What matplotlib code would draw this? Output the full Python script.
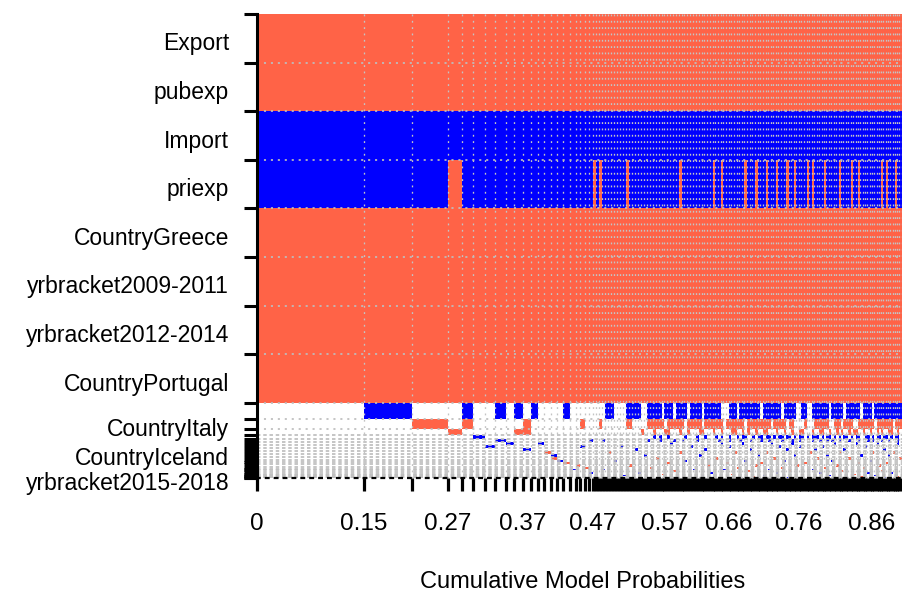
import matplotlib.pyplot as plt
import numpy as np
from matplotlib.colors import ListedColormap
from matplotlib.transforms import ScaledTranslation

plt.rcParams['font.family'] = ['Liberation Sans', 'DejaVu Sans']

# variables, top to bottom (blank = label hidden by overlap)
var_names = ["Export", "pubexp", "Import", "priexp", "CountryGreece",
             "yrbracket2009-2011", "yrbracket2012-2014", "CountryPortugal",
             "", "CountryItaly", "", "", "", "", "", "", "CountryIceland",
             "", "", "", "", "", "", "", "", "", "", "", "", "",
             "yrbracket2015-2018"]

# posterior inclusion probabilities (row heights)
pip = [1.0, 1.0, 1.0, 1.0, 1.0, 1.0, 1.0, 1.0,
       0.33, 0.205, 0.125, 0.072, 0.068,
       0.066, 0.064, 0.062, 0.06, 0.057, 0.054, 0.051, 0.048, 0.045,
       0.042, 0.039, 0.036, 0.032, 0.028, 0.024, 0.019, 0.013, 0.003]

# sign of each variable's coefficient when included
var_sign = [1, 1, -1, -1, 1, 1, 1, 1,
            -1, 1, 1, -1, -1,
            -1, -1, -1, 1, -1, 1, -1, 1, 1, 1, -1, 1, -1, 1, -1, 1, -1, -1]

# posterior model probabilities, best models first
head_probs = [0.150, 0.0665, 0.0504, 0.0196, 0.0161, 0.0168, 0.0140, 0.0154,
              0.0112, 0.0119, 0.0119, 0.0098, 0.0084, 0.0098, 0.0084, 0.0084,
              0.0098, 0.0084, 0.0056, 0.0070, 0.0056, 0.0056]
tail_probs = [0.0042] * 20 + [0.0040] * 20 + [0.0037] * 20 + \
             [0.0036] * 20 + [0.0034] * 20 + [0.0032] * 20

# rows 0-7 are in every model; priexp flips positive in a few
core_rows = [0, 1, 2, 3, 4, 5, 6, 7]
priexp_pos_head = [3]
priexp_pos_tail = [0, 2, 11, 29, 41, 44, 53, 57, 61, 65, 69, 72, 77, 79,
                   84, 90, 95, 98, 108, 110, 114]

# extra variables in the leading models: row -> model indices
head_incl = {8: [1, 4, 7, 9, 11, 16], 9: [2, 4, 10, 19], 10: [3, 9, 10],
             11: [5], 12: [7, 21], 13: [8, 12], 14: [6, 19], 15: [10],
             16: [13], 17: [14], 18: [14], 19: [15], 20: [16], 21: [18],
             22: [20], 23: [17], 25: [21]}

# dense rows in the tail models ('.' = excluded)
tail_rows = {
    8: ["....---...", ".-----..--", "---.---.--", "--.----.--",
        "----...---", ".--------.", "-------.--", "---..--..-",
        "------.---", "--.------.", "----.-----", "----------"],
    9: ["..+.......", ".++.....++", "++++.+++++", "+.+++++.++",
        "+++++.++++", "+++.++++++", "+++.+++++.", "++....+...",
        "++++++..++", "+.++++..++", "+++++.++++", "+++.++++++"],
    10: ["..........", "......+...", "+...++...+", "..+...++..",
         ".+..+...++", "..+.+..+..", "++...+..+.", ".+..++...+",
         "..++..+..+", ".+..+.++..", "+..+..+.+.", ".++..+..+."],
    11: ["..........", "..........", "-.-..-....", ".-...-..-.",
         "..-.-..-..", "-.--..-.--", ".--.-.--.-", "-.-.--.-.-",
         "--.-.--.-.", "-.--.-.--.", ".--.-.--.-", "-.-.--.-.-"],
    12: ["...-......", "........-.", "..-....-..", "-....-....",
         "...-...-..", ".-...-...-", "..-....-..", ".-..-....-",
         "..-..-.-..", "-...-...-.", "..-.-...-.", ".-...-.-.."],
}

# sparse rows in the tail models: row -> tail model indices
tail_incl = {13: [26, 44, 52, 63, 71, 88, 97, 106, 115],
             14: [9, 33, 47, 66, 74, 83, 101, 118],
             15: [14, 38, 55, 69, 80, 92, 109],
             16: [5, 29, 49, 61, 78, 90, 104, 113],
             17: [17, 36, 58, 72, 85, 99, 111],
             18: [21, 42, 64, 81, 94, 116],
             19: [7, 31, 53, 68, 87, 103, 119],
             20: [25, 46, 59, 76, 98, 110],
             21: [12, 39, 57, 73, 89, 107],
             22: [19, 50, 67, 84, 100, 117],
             23: [3, 34, 45, 62, 79, 93, 114],
             24: [27, 54, 70, 91, 108],
             25: [15, 40, 65, 82, 102, 112],
             26: [23, 48, 75, 96, 118],
             27: [10, 37, 60, 86, 105],
             28: [30, 56, 77, 99, 115],
             29: [43, 69, 92, 109],
             30: [51, 80, 104]}

xtick_labels = ["0", "0.15", "0.27", "0.37", "0.47", "0.57", "0.66", "0.76", "0.86"]

# ---- build the model matrix ----
model_probs = np.array(head_probs + tail_probs)
n_head = len(head_probs)
n_vars = len(var_names)
signs = np.zeros((n_vars, len(model_probs)))
for r in core_rows:
    signs[r, :] = var_sign[r]
signs[3, priexp_pos_head] = 1
signs[3, [n_head + t for t in priexp_pos_tail]] = 1
for r, idx in head_incl.items():
    signs[r, idx] = var_sign[r]
for r, chunks in tail_rows.items():
    s = "".join(chunks)
    assert len(s) == len(tail_probs)
    for t, ch in enumerate(s):
        if ch != ".":
            signs[r, n_head + t] = 1 if ch == "+" else -1
for r, idx in tail_incl.items():
    signs[r, [n_head + t for t in idx]] = var_sign[r]

x_edges = np.concatenate([[0], np.cumsum(model_probs)])
y_edges = np.concatenate([[0], np.cumsum(pip)])
x_total = x_edges[-1]
y_total = y_edges[-1]

fig = plt.figure(figsize=(9.02, 5.94), dpi=100)
px_per_unit = 714
ax = fig.add_axes([257 / 902, 116 / 594, x_total * px_per_unit / 902, 464 / 594])

cmap = ListedColormap(["#0000FF", "#FFFFFF", "#FF6347"])
ax.pcolormesh(x_edges, y_edges, signs, cmap=cmap, vmin=-1.5, vmax=1.5,
              shading="flat", antialiased=False, edgecolors="none")

# dotted grey grid at model and variable boundaries
ax.vlines(x_edges[1:-1], 0, y_total, colors="#C4C4C4",
          linestyles=[(0, (1.4, 3.4))], linewidth=0.95)
ax.hlines(y_edges[1:11], 0, x_total, colors="#BEBEBE",
          linestyles=[(0, (1.2, 2.8))], linewidth=1.25)
ax.hlines(y_edges[11:-1], 0, x_total, colors="#BEBEBE",
          linestyles=[(0, (2.0, 1.6))], linewidth=1.25)

ax.set_xlim(0, x_total)
ax.set_ylim(y_total, 0)

# ticks at every model boundary, labels at a few of them
label_vals = [float(v) for v in xtick_labels]
label_pos = [x_edges[np.argmin(np.abs(x_edges - v))] for v in label_vals]
ax.set_xticks(x_edges, minor=True)
ax.set_xticks(label_pos)
ax.set_xticklabels(xtick_labels)
ax.tick_params(axis="x", which="both", direction="out", length=9, width=2.3, color="black")
ax.tick_params(axis="x", which="major", pad=16, labelsize=17.5)

# y: ticks at row boundaries, labels at row centres
centers = (y_edges[:-1] + y_edges[1:]) / 2
lab_rows = [i for i, n in enumerate(var_names) if n]
ax.set_yticks(y_edges, minor=True)
ax.set_yticks([centers[i] for i in lab_rows])
ax.set_yticklabels([var_names[i] for i in lab_rows])
ax.tick_params(axis="y", which="minor", direction="out", length=9.4, width=2.2, color="black")
ax.tick_params(axis="y", which="major", length=0, pad=20, labelsize=16.5)
shift = ScaledTranslation(0, -0.03, fig.dpi_scale_trans)
for lab in ax.get_yticklabels():
    lab.set_transform(lab.get_transform() + shift)

for s in ["top", "right"]:
    ax.spines[s].set_visible(False)
ax.spines["left"].set_linewidth(2.2)
ax.spines["bottom"].set_linewidth(1.6)
ax.spines["bottom"].set_linestyle((0, (1.2, 2.8)))

ax.set_xlabel("Cumulative Model Probabilities", fontsize=17, labelpad=26)

fig.savefig("out.png", dpi=100)
